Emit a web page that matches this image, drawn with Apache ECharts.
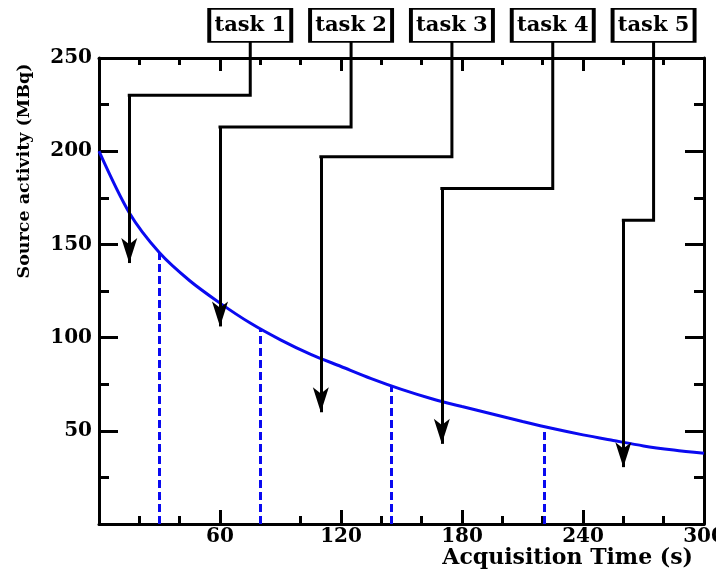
<!DOCTYPE html>
<html>
<head>
<meta charset="utf-8">
<script src="https://cdn.jsdelivr.net/npm/echarts@6/dist/echarts.min.js"></script>
<style>
html, body { margin: 0; padding: 0; background: #fff; }
#chart { width: 716px; height: 570px; }
</style>
</head>
<body>
<div id="chart"></div>
<script>
// decay curve (every 15 s)
var timeS = [0, 15, 30, 45, 60, 75, 90, 105, 120, 135, 150, 165, 180, 195, 210, 225, 240, 255, 270, 285, 300];
var activity = [200, 167, 145.5, 130.5, 118.5, 107.8, 98.8, 91, 84.5, 78, 72.2, 67.2, 63, 59, 55, 51.2, 47.8, 44.8, 41.9, 39.7, 37.9];

// dashed drop lines
var dropTimes = [30, 80, 145, 221];
var dropActivity = [145.5, 104.5, 74, 52];

// task annotations
var taskNames = ['task 1', 'task 2', 'task 3', 'task 4', 'task 5'];
var taskX = [75, 125, 175, 225, 275];
var taskBoxY = 267.5;
var taskLevel = [230, 213, 197, 180, 163];
var arrowX = [15, 60, 110, 170, 260];
var arrowTip = [140, 106, 60, 43, 30.5];

var serif = '"DejaVu Serif", serif';
var blue = '#0a0af0';

var tickStyle = {color: '#000', width: 3};

var makeX = function(pos, showLabel, tickLen, minorLen) {
    return {
        type: 'value',
        position: pos,
        min: 0,
        max: 300,
        interval: 60,
        axisLine: {onZero: false, lineStyle: {color: '#000', width: 3}},
        axisTick: {inside: true, length: tickLen, lineStyle: tickStyle},
        minorTick: {show: true, splitNumber: 3, length: minorLen, lineStyle: tickStyle},
        splitLine: {show: false},
        minorSplitLine: {show: false},
        axisLabel: {
            show: showLabel,
            margin: 3,
            color: '#000',
            fontFamily: serif,
            fontWeight: 'bold',
            fontSize: 20,
            formatter: function(v) { return v === 0 ? '' : v; }
        }
    };
};

var makeY = function(pos, showLabel) {
    return {
        type: 'value',
        position: pos,
        min: 0,
        max: 250,
        interval: 50,
        axisLine: {onZero: false, lineStyle: {color: '#000', width: 3}},
        axisTick: {inside: true, length: 19, lineStyle: tickStyle},
        minorTick: {show: true, splitNumber: 2, length: 10, lineStyle: tickStyle},
        splitLine: {show: false},
        minorSplitLine: {show: false},
        axisLabel: {
            show: showLabel,
            margin: 7,
            color: '#000',
            fontFamily: serif,
            fontWeight: 'bold',
            fontSize: 20,
            formatter: function(v) { return v === 0 ? '' : v; }
        }
    };
};

var xBottom = makeX('bottom', true, 14, 8);
xBottom.name = 'Acquisition Time (s)';
xBottom.nameLocation = 'end';
xBottom.nameGap = -11;
xBottom.nameTextStyle = {
    color: '#000', fontFamily: serif, fontWeight: 'bold', fontSize: 22,
    align: 'right', verticalAlign: 'top', padding: [23, 0, 0, 0]
};

var option = {
    animation: false,
    backgroundColor: '#fff',
    grid: {left: 99, top: 58, width: 605, height: 466, outerBoundsMode: 'none', containLabel: false},
    xAxis: [xBottom, makeX('top', false, 13, 7)],
    yAxis: [makeY('left', true), makeY('right', false)],
    graphic: [{
        type: 'text',
        x: 24,
        y: 171,
        rotation: Math.PI / 2,
        style: {
            text: 'Source activity (MBq)',
            font: 'bold 17.5px "DejaVu Serif", serif',
            fill: '#000',
            align: 'center',
            verticalAlign: 'middle'
        }
    }],
    series: [{
        type: 'line',
        data: timeS.map((t, i) => [t, activity[i]]),
        smooth: 0.3,
        symbol: 'none',
        lineStyle: {color: blue, width: 3},
        z: 3
    }, {
        type: 'lines',
        coordinateSystem: 'cartesian2d',
        data: dropTimes.map((t, i) => ({coords: [[t, 0], [t, dropActivity[i]]]})),
        lineStyle: {color: blue, width: 3, type: [8, 4], opacity: 1},
        z: 2
    }, {
        type: 'lines',
        coordinateSystem: 'cartesian2d',
        polyline: true,
        clip: false,
        data: taskX.map((x, i) => ({coords: [[x, taskBoxY], [x, taskLevel[i]], [arrowX[i], taskLevel[i]]]})),
        lineStyle: {color: '#000', width: 3, opacity: 1, join: 'miter', cap: 'square'},
        z: 4
    }, {
        type: 'lines',
        coordinateSystem: 'cartesian2d',
        clip: false,
        symbol: ['none', 'arrow'],
        symbolSize: [1, [12, 25]],
        symbolOffset: [0, 12.5],
        data: arrowX.map((x, i) => ({coords: [[x, taskLevel[i]], [x, arrowTip[i]]]})),
        lineStyle: {color: '#000', width: 3, opacity: 1},
        z: 4
    }, {
        type: 'scatter',
        clip: false,
        silent: true,
        symbol: 'rect',
        symbolSize: [82, 33],
        data: taskX.map((x, i) => ({name: taskNames[i], value: [x, taskBoxY]})),
        itemStyle: {color: '#fff', borderColor: '#000', borderWidth: 2.5, opacity: 1},
        label: {
            show: true,
            position: 'inside',
            formatter: '{b}',
            color: '#000',
            fontFamily: serif,
            fontWeight: 'bold',
            fontSize: 21
        },
        z: 10
    }]
};

var chart = echarts.init(document.getElementById('chart'));
chart.setOption(option);
</script>
</body>
</html>
